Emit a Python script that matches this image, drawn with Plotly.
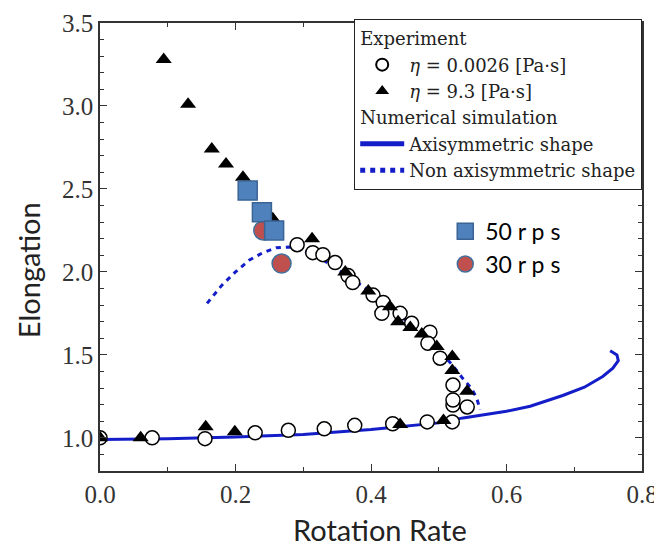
import plotly.graph_objects as go

# experiment, eta = 0.0026 Pa.s (open circles)
circ_x = [0.0, 0.077, 0.155, 0.229, 0.278, 0.331, 0.376, 0.432, 0.483, 0.52,
          0.521, 0.521, 0.521, 0.542,
          0.291, 0.314, 0.329, 0.347, 0.366, 0.373, 0.403, 0.418, 0.416, 0.443,
          0.46, 0.487, 0.484, 0.502]
circ_y = [1.0, 1.0, 0.995, 1.03, 1.045, 1.054, 1.075, 1.085, 1.096, 1.096,
          1.198, 1.228, 1.318, 1.186,
          2.164, 2.116, 2.104, 2.056, 1.978, 1.936, 1.86, 1.816, 1.75, 1.75,
          1.69, 1.636, 1.57, 1.48]

# experiment, eta = 9.3 Pa.s (filled triangles)
tri_x = [0.0, 0.06, 0.156, 0.199, 0.443, 0.507,
         0.094, 0.13, 0.165, 0.186, 0.211, 0.255,
         0.313, 0.362, 0.396, 0.428, 0.44, 0.458, 0.475, 0.497, 0.52, 0.52, 0.542]
tri_y = [1.0, 1.0, 1.066, 1.036, 1.08, 1.105,
         3.28, 3.01, 2.74, 2.65, 2.57, 2.32,
         2.2, 2.0, 1.885, 1.79, 1.7, 1.665, 1.625, 1.55, 1.49, 1.405, 1.28]

# numerical simulation, axisymmetric shape
axi_x = [0.0, 0.1, 0.2, 0.3, 0.4, 0.45, 0.5, 0.536, 0.6, 0.635, 0.683, 0.715,
         0.742, 0.757, 0.765, 0.763, 0.753]
axi_y = [0.99, 0.995, 1.005, 1.02, 1.05, 1.07, 1.09, 1.12, 1.16, 1.19, 1.255, 1.305,
         1.37, 1.42, 1.465, 1.5, 1.525]

# numerical simulation, non axisymmetric shape
non_x = [0.158, 0.18, 0.2, 0.22, 0.24, 0.26, 0.28, 0.3, 0.33, 0.36, 0.4, 0.43,
         0.46, 0.49, 0.52, 0.535, 0.548, 0.556, 0.561]
non_y = [1.81, 1.92, 2.0, 2.07, 2.115, 2.145, 2.15, 2.13, 2.07, 1.99, 1.88, 1.78,
         1.68, 1.57, 1.44, 1.36, 1.3, 1.24, 1.17]

# overlaid rps markers
rps50_x = [0.218, 0.239, 0.257]
rps50_y = [2.49, 2.36, 2.25]
rps30_x = [0.241, 0.268]
rps30_y = [2.25, 2.05]

blue = "rgb(20,30,200)"
serif = "Liberation Serif"
sans = "Lato"

fig = go.Figure()

fig.add_trace(go.Scatter(x=axi_x, y=axi_y, mode="lines", name="Axisymmetric shape",
                         line=dict(color=blue, width=3), legendgroup="sim",
                         legendgrouptitle_text="Numerical simulation", legendrank=3))
fig.add_trace(go.Scatter(x=non_x, y=non_y, mode="lines", name="Non axisymmetric shape",
                         line=dict(color=blue, width=3, dash="5px,5px"), legendgroup="sim",
                         legendrank=4))
fig.add_trace(go.Scatter(x=circ_x, y=circ_y, mode="markers",
                         name="<i>η</i> = 0.0026 [Pa·s]",
                         marker=dict(symbol="circle", size=14, color="white",
                                     line=dict(color="black", width=1.5)),
                         legendgroup="exp", legendgrouptitle_text="Experiment", legendrank=1))
fig.add_trace(go.Scatter(x=tri_x, y=tri_y, mode="markers",
                         name="<i>η</i> = 9.3 [Pa·s]",
                         marker=dict(symbol="triangle-up", size=14, color="black"),
                         legendgroup="exp", legendrank=2))
fig.add_trace(go.Scatter(x=rps30_x, y=rps30_y, mode="markers", name="30 r p s",
                         marker=dict(symbol="circle", size=19, color="#c0504d",
                                     line=dict(color="#41719c", width=1.5)),
                         legend="legend2", legendgroup="r30", legendrank=2))
fig.add_trace(go.Scatter(x=rps50_x, y=rps50_y, mode="markers", name="50 r p s",
                         marker=dict(symbol="square", size=19, color="#4f81bd",
                                     line=dict(color="#3a6494", width=1.5)),
                         legend="legend2", legendgroup="r50", legendrank=1))

axis_common = dict(showline=True, linecolor="#333", linewidth=1.5, mirror="allticks",
                   ticks="inside", ticklen=7, tickwidth=1.2, tickcolor="#333",
                   showgrid=False, zeroline=False, automargin=False,
                   tickfont=dict(family=serif, size=25, color="#333"),
                   minor=dict(ticks="inside", ticklen=4, tickwidth=1, tickcolor="#333",
                              dtick=0.1, showgrid=False))

fig.update_xaxes(range=[0, 0.8], dtick=0.2, tick0=0, tickformat=".1f", **axis_common)
fig.update_yaxes(range=[0.8, 3.5], dtick=0.5, tick0=0, tickformat=".1f",
                 ticklabelstandoff=0, **axis_common)

# axis titles as annotations (the original ones sit a bit off-centre)
fig.add_annotation(text="Rotation Rate", xref="paper", yref="paper", x=0.517, y=-0.131,
                   xanchor="center", yanchor="middle", showarrow=False,
                   font=dict(family=sans, size=29, color="#222"))
fig.add_annotation(text="Elongation", xref="paper", yref="paper", x=-0.133, y=0.448,
                   xanchor="center", yanchor="middle", showarrow=False, textangle=-90,
                   font=dict(family=sans, size=29, color="#222"))

# the page body keeps its default 8px margin, so the figure is 8px smaller
fig.update_layout(
    width=654, height=540,
    font=dict(family=serif, color="#222"),
    margin=dict(l=92, r=20, t=14, b=77),
    plot_bgcolor="white", paper_bgcolor="white",
    legend=dict(x=1, xanchor="right", y=1.007, yanchor="top",
                bgcolor="white", bordercolor="#222", borderwidth=1.2,
                font=dict(family="DejaVu Serif", size=18, color="#222"),
                grouptitlefont=dict(family="DejaVu Serif", size=18, color="#222"),
                traceorder="grouped", tracegroupgap=0, itemwidth=44,
                itemsizing="constant"),
    legend2=dict(x=0.637, xanchor="left", y=0.582, yanchor="top",
                 bgcolor="rgba(0,0,0,0)", borderwidth=0,
                 font=dict(family=sans, size=23, color="black"),
                 tracegroupgap=0),
)

fig.write_html("out.html")
